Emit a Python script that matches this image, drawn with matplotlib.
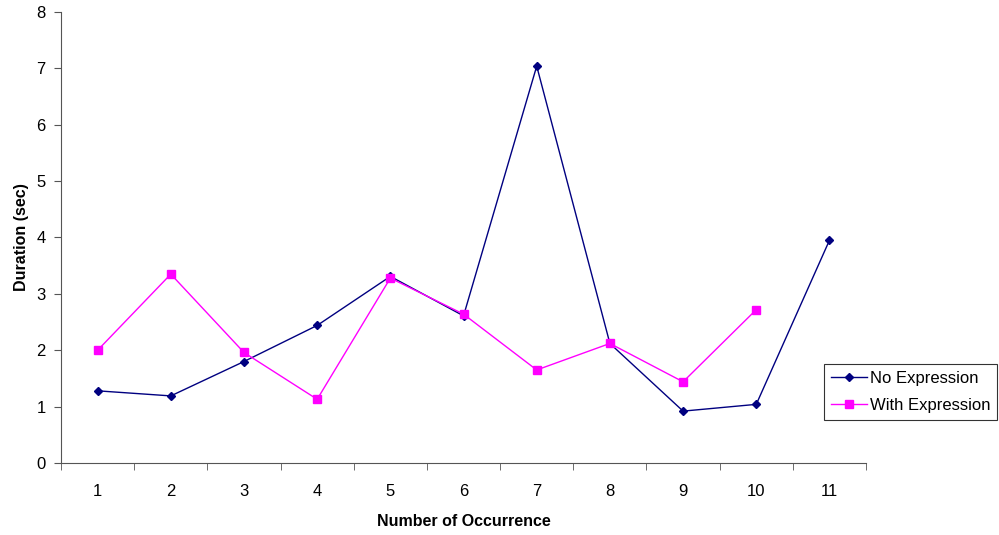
import matplotlib
matplotlib.use("Agg")
import matplotlib.pyplot as plt
import numpy as np

plt.rcParams['font.family'] = ['Liberation Sans', 'DejaVu Sans']

# data
occurrence = [1, 2, 3, 4, 5, 6, 7, 8, 9, 10, 11]
no_expr = [1.28, 1.19, 1.80, 2.44, 3.31, 2.61, 7.04, 2.12, 0.92, 1.04, 3.95]
with_expr = [2.00, 3.35, 1.96, 1.13, 3.28, 2.64, 1.65, 2.12, 1.44, 2.72]

fig = plt.figure(figsize=(9.99, 5.35), dpi=100)
ax = fig.add_axes([0.0611, 0.1346, 0.8058, 0.843])

ax.plot(occurrence, no_expr, color='#000080', marker='D', markersize=4.5,
        linewidth=1, label='No Expression')
ax.plot(occurrence[:len(with_expr)], with_expr, color='#FF00FF', marker='s',
        markersize=5.5, linewidth=1, label='With Expression')

ax.set_xlim(0.5, 11.5)
ax.set_ylim(0, 8)
ax.set_yticks(range(0, 9))
ax.set_xticks(occurrence)
ax.set_xticks(np.arange(0.5, 12, 1), minor=True)
ax.tick_params(axis='x', which='major', length=0, pad=15, labelsize=12)
ax.tick_params(axis='x', which='minor', length=5, color='#555555')
ax.tick_params(axis='y', length=5, color='#555555', labelsize=12, pad=6)

for s in ['top', 'right']:
    ax.spines[s].set_visible(False)
for s in ['left', 'bottom']:
    ax.spines[s].set_color('#555555')

ax.set_xlabel('Number of Occurrence', fontweight='bold', fontsize=11.5, labelpad=11)
ax.set_ylabel('Duration (sec)', fontweight='bold', fontsize=11.5, labelpad=5)

leg = fig.legend(loc='upper left', bbox_to_anchor=(824 / 999, 1 - 364 / 535),
                 fontsize=12, frameon=True, fancybox=False, borderpad=0.4,
                 handlelength=2.2, handletextpad=0.15, labelspacing=0.75,
                 borderaxespad=0)
leg.get_frame().set_edgecolor('black')
leg.get_frame().set_linewidth(0.8)

fig.savefig('out.png', dpi=100)
